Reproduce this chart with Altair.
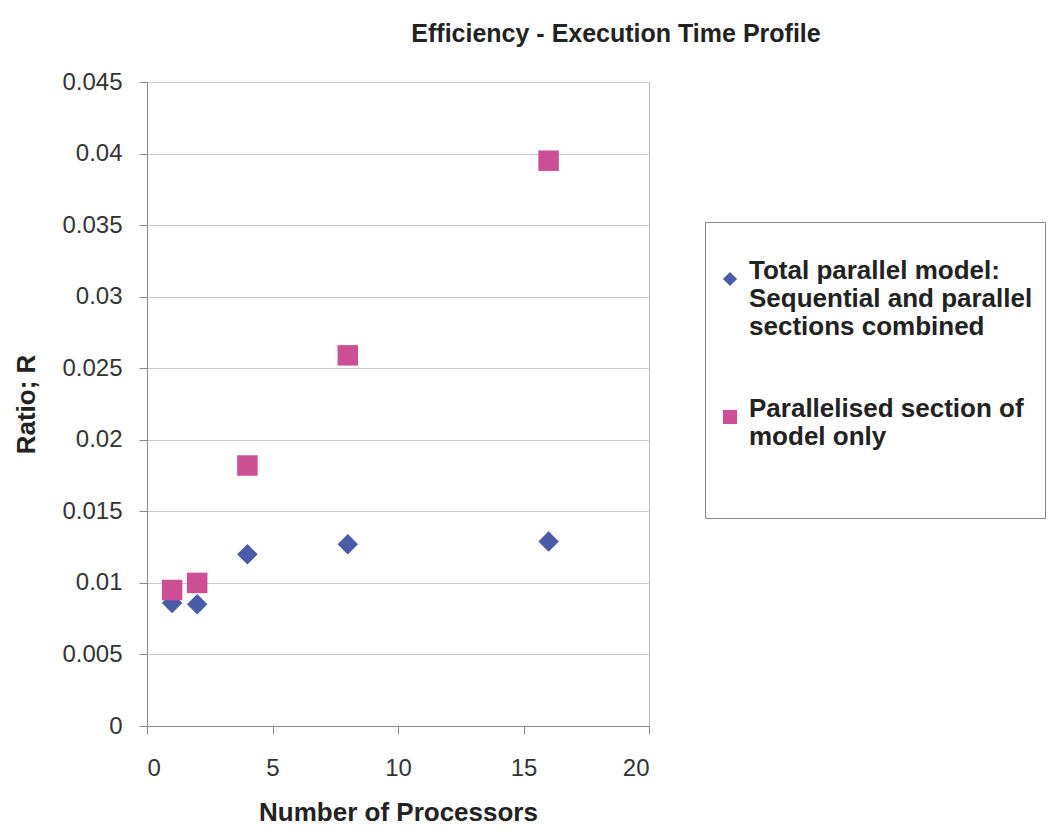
import json
import altair as alt
import pandas as pd

# ---- data ----
processors = [1, 2, 4, 8, 16]
total_ratio = [0.0086, 0.0085, 0.0120, 0.0127, 0.0129]
parallel_ratio = [0.0095, 0.0100, 0.0182, 0.0259, 0.0395]
series = ["Total", "Parallelised"]
legend_total_lines = ["Total parallel model:", "Sequential and parallel", "sections combined"]
legend_parallel_lines = ["Parallelised section of", "model only"]
x_ticks = [0, 5, 10, 15, 20]
y_ticks = [0, 0.005, 0.01, 0.015, 0.02, 0.025, 0.03, 0.035, 0.04, 0.045]
colors = ["#4A5BA8", "#CC4F96"]
shapes = ["diamond", "square"]

rows = []
for p, v in zip(processors, total_ratio):
    rows.append({"processors": p, "ratio": v, "series": series[0]})
for p, v in zip(processors, parallel_ratio):
    rows.append({"processors": p, "ratio": v, "series": series[1]})
df = pd.DataFrame(rows)

FONT = "Liberation Sans"

# legend labels as multi-line text; blank lines only pad the legend box
total_label = legend_total_lines
parallel_label = legend_parallel_lines + ["", ""]
label_expr = "datum.label == '%s' ? %s : %s" % (
    series[0], json.dumps(total_label), json.dumps(parallel_label))

legend = alt.Legend(
    orient="none", legendX=558, legendY=140, title=" ",
    titleFontSize=2, titlePadding=30,
    labelExpr=label_expr, labelFont=FONT, labelFontSize=26, labelFontWeight="bold",
    labelColor="#222222", labelLimit=600, labelBaseline="alphabetic", labelOffset=6,
    symbolSize=200, symbolStrokeWidth=0, strokeColor="#888888", padding=12,
    rowPadding=56,
)

chart = alt.Chart(df).mark_point(filled=True, opacity=1, size=420).encode(
    x=alt.X("processors:Q", title="Number of Processors",
            scale=alt.Scale(domain=[0, 20], nice=False, zero=True),
            axis=alt.Axis(values=x_ticks, grid=False, titleX=251, titleY=86,
                          titleBaseline="middle", labelPadding=22)),
    y=alt.Y("ratio:Q", title="Ratio; R",
            scale=alt.Scale(domain=[0, 0.045], nice=False),
            axis=alt.Axis(values=y_ticks, format="~g", grid=True, titleX=-121, titleY=322,
                          titleAngle=270, titleBaseline="middle", titleAlign="center",
                          labelPadding=17)),
    color=alt.Color("series:N", scale=alt.Scale(domain=series, range=colors), legend=legend),
    shape=alt.Shape("series:N", scale=alt.Scale(domain=series, range=shapes), legend=legend),
).properties(
    width=502, height=644,
    background="white",
    title=alt.TitleParams(text="Efficiency - Execution Time Profile", font=FONT, fontSize=25,
                          fontWeight="bold", color="#222222", anchor="middle", dx=218,
                          offset=23),
    autosize=alt.AutoSizeParams(type="none"),
    padding={"left": 147, "top": 82, "right": 403, "bottom": 105},
).configure_view(
    stroke="#bbbbbb", strokeWidth=1
).configure_axis(
    labelFont=FONT, labelFontSize=24, labelColor="#333333",
    titleFont=FONT, titleFontSize=26, titleFontWeight="bold", titleColor="#222222",
    domainColor="#888888", tickColor="#888888", tickSize=8, gridColor="#cccccc",
    domainWidth=1, tickWidth=1, gridWidth=1,
)

chart.save("out.html", embed_options={"renderer": "svg", "actions": False})
